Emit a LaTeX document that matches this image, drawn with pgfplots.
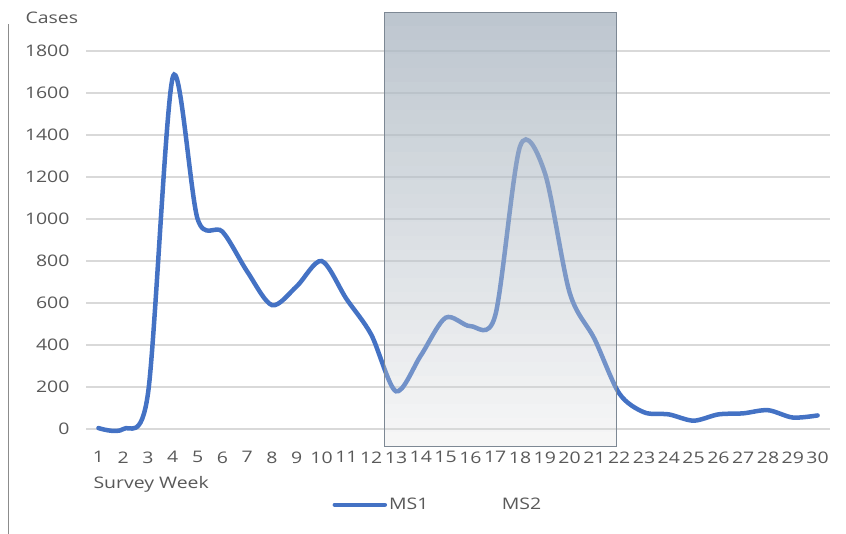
\documentclass[border=0pt]{standalone}
\usepackage{fontspec}
\setmainfont{Open Sans}
\newfontfamily\chartfont[FakeStretch=1.22]{Open Sans}
\usepackage{pgfplots}
\pgfplotsset{compat=1.18}
\definecolor{lineblue}{HTML}{4472C4}
\definecolor{txt}{HTML}{595959}
\definecolor{gridc}{HTML}{D9D9D9}
\definecolor{rectedge}{HTML}{7D8894}
\newcommand{\cf}{\chartfont\fontsize{16}{19}\selectfont}
\begin{document}
\begin{tikzpicture}
\useasboundingbox (0bp,0bp) rectangle (846bp,534bp);
\draw[color=black!45, line width=0.8bp] (8bp,0bp) -- (8bp,510bp);
\begin{axis}[at={(86bp,86bp)}, anchor=south west, scale only axis,
  width=744bp, height=437bp,
  xmin=0.5, xmax=30.5, ymin=-90, ymax=1990,
  axis line style={draw=none}, major tick length=0pt,
  xtick={1,...,30}, ytick={0,200,...,1800},
  ymajorgrids, grid style={gridc, line width=1.5bp},
  tick label style={font=\cf, text=txt},
  xticklabel style={inner xsep=0pt},
  yticklabel style={xshift=-13bp},
  /pgf/number format/assume math mode=true,
  /pgf/number format/1000 sep={},
  legend style={at={(0.473,-0.13)}, anchor=center, draw=none, fill=none,
    font=\cf, text=txt, legend columns=2,
    /tikz/every even column/.append style={column sep=15bp}},
  legend image code/.code={\draw[#1] (0bp,0bp) -- (50bp,0bp);},
]
\addplot[lineblue, line width=4.5bp, smooth, tension=0.5, line cap=round] coordinates {
(1,5) (2,0) (3,170) (4,1675) (5,1000) (6,940) (7,750) (8,590) (9,680) (10,800)
(11,620) (12,450) (13,180) (14,350) (15,530) (16,490) (17,540) (18,1345) (19,1220) (20,650)
(21,430) (22,170) (23,80) (24,70) (25,40) (26,70) (27,75) (28,90) (29,55) (30,65)};
\addlegendentry{MS1}
\addlegendimage{draw opacity=0, line width=4.5bp}
\addlegendentry{MS2}
\end{axis}
\foreach \i in {0,...,30}{
  \pgfmathsetmacro{\t}{(\i+0.5)/31}
  \pgfmathsetmacro{\a}{0.25+0.55*\t}
  \pgfmathtruncatemacro{\R}{max(0,min(255,((247-58*\t)-(1-\a)*255)/\a))}
  \pgfmathtruncatemacro{\G}{max(0,min(255,((247-49*\t)-(1-\a)*255)/\a))}
  \pgfmathtruncatemacro{\B}{max(0,min(255,((247-40*\t)-(1-\a)*255)/\a))}
  \pgfmathtruncatemacro{\ya}{88+14*\i}
  \pgfmathtruncatemacro{\yb}{102+14*\i}
  \definecolor{stripc}{RGB}{\R,\G,\B}
  \fill[stripc, fill opacity=\a] (384bp,\ya bp) rectangle (616bp,\yb bp);
}
\draw[rectedge, line width=0.9bp] (384bp,88bp) rectangle (616bp,522bp);
\node[anchor=west, text=txt, font=\cf] at (22bp,516bp) {Cases};
\node[anchor=west, text=txt, font=\cf] at (90bp,50bp) {Survey Week};
\end{tikzpicture}
\end{document}
